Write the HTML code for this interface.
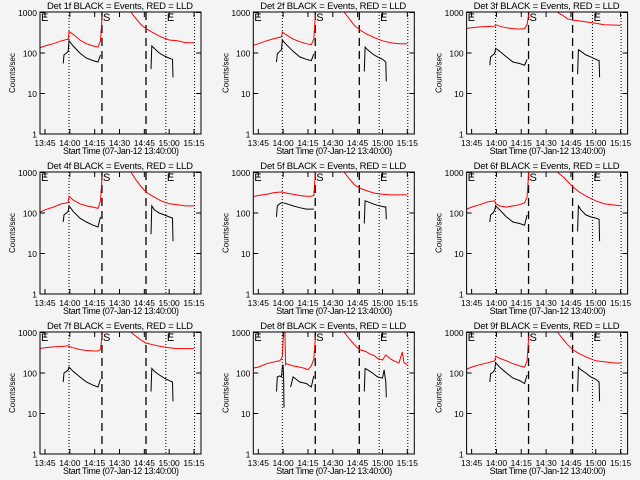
<!DOCTYPE html>
<html><head><meta charset="utf-8"><style>
html,body{margin:0;padding:0;background:#f4f4f4;}
svg{display:block;font-family:"Liberation Sans",sans-serif;}
</style></head><body>
<svg id="chart" width="640" height="480" viewBox="0 0 640 480">
<rect x="0" y="0" width="640" height="480" fill="#f4f4f4"/>
</svg>
<script>
// shared time arrays (minutes after 13:40)
const tRed1 = [1,5,10,15,19,19.5,22,26,30,34,37,38.5,39.5];
const tRed2 = [57,60,63,66,70,75,80,85,90,95];
const tBlk1 = [16,16.5,18,19,19.5,22,26,30,34,37,38.5];
const tBlk2 = [69,69.5,71,74,77,80,82,82.3];
const xTickLabels = ["13:45","14:00","14:15","14:30","14:45","15:00","15:15"];
const xTickTimes = [5,20,35,50,65,80,95];
const yTickValues = [1,10,100,1000];
const yTickLabels = ["1","10","100","1000"];
const detNames = ["1f","2f","3f","4f","5f","6f","7f","8f","9f"];
const dottedTimes = [19.5,78,95.3];
const dashedTimes = [39.4,66];

const red1 = [
 [130,150,170,200,220,340,290,210,170,150,140,200,800],
 [150,170,200,230,250,330,280,220,190,170,160,220,900],
 [400,420,440,450,460,500,460,420,400,390,400,500,900],
 [100,120,140,170,180,260,210,170,150,140,130,200,800],
 [250,270,290,320,330,330,310,290,270,260,260,270,1000],
 [120,140,160,190,200,170,150,140,150,160,180,250,1000],
 [400,420,440,450,470,450,420,380,360,350,350,380,900],
 null,
 [120,140,160,180,200,260,230,200,170,150,140,200,800]
];
const red2 = [
 [1000,700,500,400,320,250,210,200,180,180],
 [1000,700,480,380,300,240,200,180,170,170],
 [1000,850,700,650,620,580,540,500,490,480],
 [1000,650,450,330,260,200,170,160,150,150],
 [1000,700,500,420,360,310,290,280,280,280],
 [1000,800,600,450,330,250,200,170,160,150],
 [1000,800,650,550,500,450,420,400,400,400],
 null,
 [1000,700,500,380,300,240,200,190,180,175]
];
const blk1 = [
 [55,90,100,110,200,150,100,75,65,60,90],
 [60,95,110,120,210,160,110,80,70,65,95],
 [50,80,90,100,130,110,80,60,55,50,70],
 [60,90,100,110,150,110,75,60,50,45,80],
 [80,150,170,180,180,170,150,135,125,125,125],
 [60,90,100,120,150,120,80,60,55,50,90],
 [60,100,110,120,140,110,80,60,50,45,70],
 null,
 [60,95,105,120,180,140,100,75,65,55,90]
];
const blk2 = [
 [40,150,130,100,85,75,70,25],
 [35,140,120,95,80,70,60,20],
 [30,120,110,90,80,70,65,25],
 [30,150,120,100,90,80,75,20],
 [55,200,190,170,155,145,140,70],
 [35,150,120,90,80,75,70,20],
 [35,130,110,90,75,65,60,20],
 null,
 [35,140,120,100,80,70,60,20]
];
// Det 8f specific (spiky)
const tRed1_8 = [1,5,10,15,18,19,19.5,20.5,21,21.5,22,26,30,33,35,37,38.5,39.5];
const red1_8 = [130,140,170,190,200,230,260,1500,1500,160,170,150,140,130,120,150,220,800];
const tRed2_8 = [57,60,63,66,70,72,75,77,80,82,85,88,90,92,93,95];
const red2_8 = [1000,700,500,380,340,300,270,230,210,280,220,190,180,330,180,160];
const tBlk1_8 = [16,16.5,18,19,19.5,20,20.3,20.5,24,24.5,26,30,34,37,38.5];
const blk1_8 = [35,80,85,80,140,160,80,14,null,45,80,60,55,45,85];
const tBlk2_8 = [69,69.5,71,74,77,80,81,82,82.3];
const blk2_8 = [35,130,120,100,80,75,120,60,25];

const NS = "http://www.w3.org/2000/svg";
const svg = document.getElementById("chart");
function mk(tag, attrs, parent){
  const e = document.createElementNS(NS, tag);
  for (const k in attrs) e.setAttribute(k, attrs[k]);
  parent.appendChild(e);
  return e;
}
const PX_PER_MIN = 149/90, DEC = 40.5;

for (let p = 0; p < 9; p++){
  const ox = (p % 3) * 213.3, oy = Math.floor(p / 3) * 160;
  const L = ox + 40, R = ox + 201, T = oy + 12, B = oy + 134;
  const xS = t => ox + 45 + (t - 5) * PX_PER_MIN;
  const yS = v => B - Math.log10(v) * DEC;
  const g = mk("g", {}, svg);
  
  

  const cp = mk("clipPath", {id: "clip" + p}, g);
  mk("rect", {x: L, y: T, width: R - L, height: B - T}, cp);

  const title = mk("text", {x: ox + 47, y: oy + 9, "font-size": 9.5, textLength: 146, lengthAdjust: "spacing", fill: "#000"}, g);
  title.textContent = "Det " + detNames[p] + " BLACK = Events, RED = LLD";
  
  

  dottedTimes.forEach(t => {
    const l = mk("line", {x1: xS(t), x2: xS(t), y1: T, y2: B, stroke: "#000", "stroke-width": 1, "stroke-dasharray": "1,2"}, g);
    
    
  });
  dashedTimes.forEach(t => {
    const l = mk("line", {x1: xS(t), x2: xS(t), y1: T, y2: B, stroke: "#000", "stroke-width": 1.3, "stroke-dasharray": "8,5"}, g);
    
    
  });
  const letters = [["E", L + 1], ["S", xS(dashedTimes[0]) + 1], ["E", xS(dottedTimes[1]) + 1]];
  letters.forEach(([c, x]) => {
    const tx = mk("text", {x: x, y: T + 9, "font-size": 11, fill: "#000"}, g);
    tx.textContent = c;
    
    
  });

  const isP8 = p === 7;
  const series = [
    [isP8 ? tRed1_8 : tRed1, isP8 ? red1_8 : red1[p], "#ff0000", "red-lld-before"],
    [isP8 ? tRed2_8 : tRed2, isP8 ? red2_8 : red2[p], "#ff0000", "red-lld-after"],
    [isP8 ? tBlk1_8 : tBlk1, isP8 ? blk1_8 : blk1[p], "#000000", "black-events-before"],
    [isP8 ? tBlk2_8 : tBlk2, isP8 ? blk2_8 : blk2[p], "#000000", "black-events-after"]
  ];
  series.forEach(([ts, vs, col, nm]) => {
    let d = "", pen = false;
    for (let i = 0; i < ts.length; i++){
      if (vs[i] == null){ pen = false; continue; }
      d += (pen ? "L" : "M") + xS(ts[i]).toFixed(1) + " " + yS(vs[i]).toFixed(1) + " ";
      pen = true;
    }
    const path = mk("path", {d: d, fill: "none", stroke: col, "stroke-width": 1, "clip-path": "url(#clip" + p + ")"}, g);
    
    
  });

  const fr = mk("rect", {x: L, y: T, width: R - L, height: B - T, fill: "none", stroke: "#000", "stroke-width": 1}, g);
  
  

  yTickValues.forEach((v, i) => {
    const y = yS(v);
    mk("line", {x1: L, x2: L + 5, y1: y, y2: y, stroke: "#000"}, g);
    mk("line", {x1: R - 5, x2: R, y1: y, y2: y, stroke: "#000"}, g);
    const tx = mk("text", {x: L - 3, y: y + 3.5, "font-size": 8.5, "text-anchor": "end", fill: "#000"}, g);
    tx.textContent = yTickLabels[i];
    
    
  });
  xTickTimes.forEach((t, i) => {
    const x = xS(t);
    mk("line", {x1: x, x2: x, y1: B, y2: B - 5, stroke: "#000"}, g);
    mk("line", {x1: x, x2: x, y1: T, y2: T + 5, stroke: "#000"}, g);
    const tx = mk("text", {x: x, y: oy + 146, "font-size": 8.5, "text-anchor": "middle", fill: "#000"}, g);
    tx.textContent = xTickLabels[i];
    
    
  });
  const xt = mk("text", {x: ox + 63, y: oy + 154, "font-size": 9, textLength: 116, lengthAdjust: "spacing", fill: "#000"}, g);
  xt.textContent = "Start Time (07-Jan-12 13:40:00)";
  
  
  const yt = mk("text", {x: 0, y: 0, "font-size": 8, "text-anchor": "middle", fill: "#000", transform: "translate(" + (ox + 15) + "," + (oy + 73) + ") rotate(-90)"}, g);
  yt.textContent = "Counts/sec";
  
  
}
</script>
</body></html>
